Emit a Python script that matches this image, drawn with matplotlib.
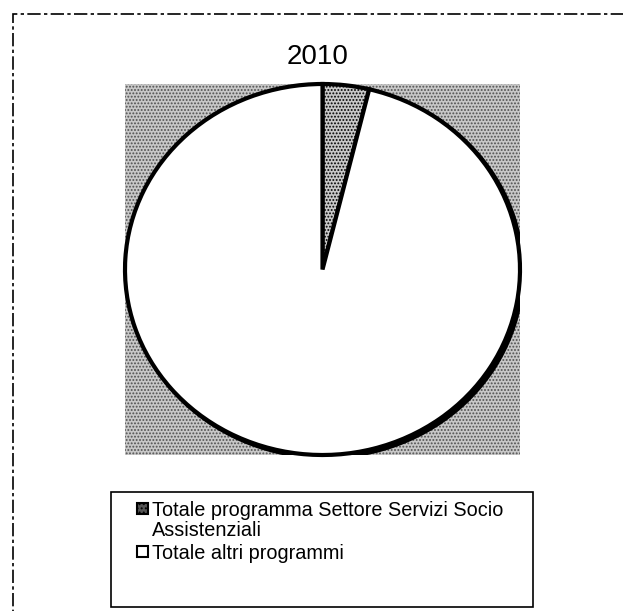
import matplotlib.pyplot as plt
from matplotlib.patches import Rectangle, Ellipse

# dati
titolo = '2010'
etichette = ['Totale programma Settore Servizi Socio\nAssistenziali',
             'Totale altri programmi']
valori = [3.8, 96.2]
colori = ['#c8c8c8', 'white']

W, H = 623, 611
fig = plt.figure(figsize=(W / 100, H / 100), dpi=100)
plt.rcParams['font.family'] = ['Liberation Sans', 'DejaVu Sans']
plt.rcParams['hatch.linewidth'] = 0.9


def fx(px):
    return px / W


def fy(py):
    return 1 - py / H


# cornice tratteggiata esterna
fig.patches.append(Rectangle((fx(13), fy(640)), fx(700), fy(14) - fy(640),
                             transform=fig.transFigure, fill=False,
                             edgecolor='black', linewidth=1.2,
                             linestyle=(0, (8, 2, 2, 2))))

# area del grafico
ax = fig.add_axes([fx(125), fy(455), fx(520) - fx(125), fy(84) - fy(455)])
ax.add_patch(Rectangle((-1, -1), 2, 2, facecolor='#c8c8c8', edgecolor='#505050',
                       hatch='.....', linewidth=0, zorder=0))

# ombra del bordo in basso a destra
ax.add_patch(Ellipse((0.012, -0.012), 2, 2, facecolor='black',
                     edgecolor='black', linewidth=3, zorder=1))

wedges, _ = ax.pie(valori, startangle=90, counterclock=False, radius=1,
                   colors=colori,
                   wedgeprops=dict(edgecolor='black', linewidth=3))
wedges[0].set_hatch('.....')
for w in wedges:
    w.set_zorder(2)
ax.set_aspect('auto')
ax.set_xlim(-1, 1)
ax.set_ylim(-1, 1)
ax.axis('off')

fig.text(fx(318), fy(57), titolo, ha='center', va='center', fontsize=20)

# legenda (disegnata a mano per allineare i simboli alla prima riga)
fig.patches.append(Rectangle((fx(111), fy(607)), fx(533) - fx(111), fy(492) - fy(607),
                             transform=fig.transFigure, fill=False,
                             edgecolor='black', linewidth=1.2))
simboli = [dict(facecolor='#555555', hatch='....'), dict(facecolor='white')]
righe_y = [503, 546]
for etichetta, simbolo, y in zip(etichette, simboli, righe_y):
    fig.patches.append(Rectangle((fx(137), fy(y + 11)), fx(11), fy(y) - fy(y + 11),
                                 transform=fig.transFigure, edgecolor='black',
                                 linewidth=1.5, **simbolo))
    fig.text(fx(152), fy(y - 2), etichetta, ha='left', va='top',
             fontsize=14.3, linespacing=1.05)

fig.savefig('out.png', dpi=100)
